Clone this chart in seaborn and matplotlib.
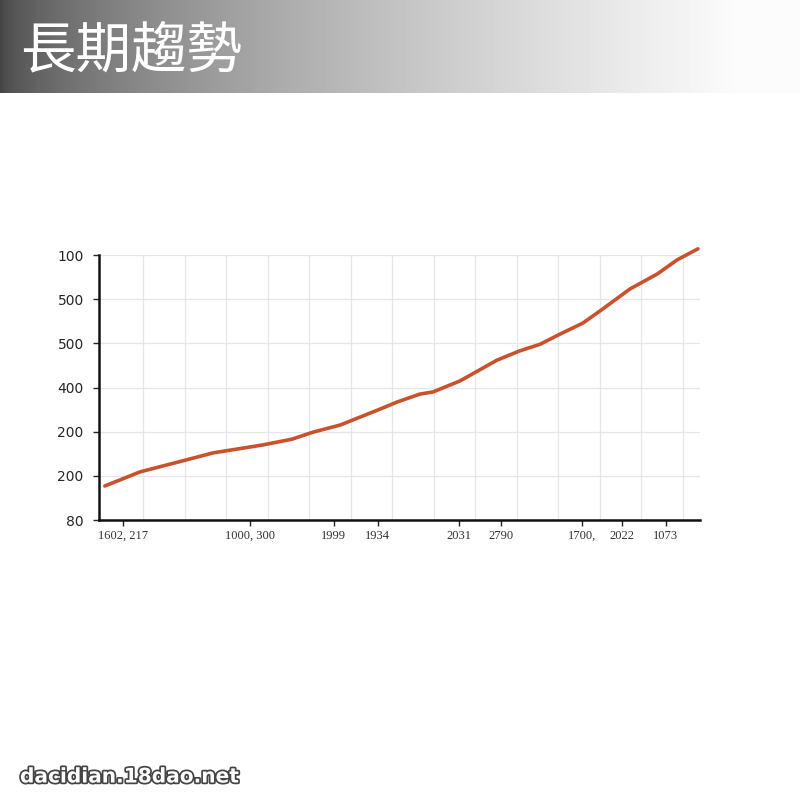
import numpy as np
import pandas as pd
import matplotlib
matplotlib.use("Agg")
import matplotlib.pyplot as plt
import matplotlib.patheffects as pe
import seaborn as sns

# values (x in grid steps, y in tick steps)
x_vals = [-0.92, -0.07, 0.96, 1.69, 2.89, 3.59, 4.10, 4.75, 5.47, 5.71, 6.12,
          6.67, 6.99, 7.64, 8.53, 9.08, 9.57, 10.05, 10.60, 11.08, 11.73,
          12.39, 12.87, 13.37]
y_vals = [0.77, 1.09, 1.34, 1.52, 1.70, 1.83, 1.99, 2.15, 2.42, 2.51, 2.67,
          2.85, 2.90, 3.15, 3.62, 3.83, 3.98, 4.21, 4.46, 4.78, 5.23,
          5.57, 5.89, 6.14]

y_tick_labels = ["80", "200", "200", "400", "500", "500", "100"]
x_tick_pos = [-0.48, 2.58, 4.60, 5.66, 7.61, 8.63, 10.58, 11.54, 12.60]
x_tick_labels = ["1602, 217", "1000, 300", "1999", "1934", "2031", "2790",
                 "1700,", "2022", "1073"]

title = "長期趨勢"
watermark = "dacidian.18dao.net"

df = pd.DataFrame({"x": x_vals, "y": y_vals})

sns.set_style("white")
plt.rcParams["font.family"] = ["Noto Sans CJK TC", "DejaVu Sans"]

fig = plt.figure(figsize=(8, 8), dpi=100)

# header band with grey gradient
hdr = fig.add_axes([0, 1 - 93 / 800, 1, 93 / 800])
grad = np.linspace(0, 1, 400)
shade = np.clip(0.27 + 0.75 * grad ** 0.6, 0, 0.985)
hdr.imshow(np.tile(shade, (10, 1)), cmap="gray", vmin=0, vmax=1,
           aspect="auto", extent=[0, 1, 0, 1])
hdr.set_axis_off()
hdr.text(0.025, 0.45, title, color="white", fontsize=40, va="center",
         ha="left", fontweight="light",
         family=["Noto Sans CJK TC", "DejaVu Sans"])

# main chart
ax = fig.add_axes([99 / 800, 1 - 520 / 800, 601 / 800, 265 / 800])
sns.lineplot(data=df, x="x", y="y", ax=ax, color="#c9512b", linewidth=2.6,
             clip_on=False)

ax.set_xlim(-1.06, 13.42)
ax.set_ylim(0, 6)
ax.set_yticks(range(len(y_tick_labels)))
ax.set_yticklabels(y_tick_labels, fontsize=10, family="DejaVu Sans")
ax.set_xticks(x_tick_pos)
ax.set_xticklabels(x_tick_labels, fontsize=9, family="Liberation Serif",
                   color="#333333")
ax.set_xticks(np.arange(0, 14), minor=True)
ax.tick_params(axis="x", which="minor", length=0)
ax.tick_params(axis="x", which="major", length=4, width=1, pad=3,
               direction="out", bottom=True)
ax.tick_params(axis="y", length=4, width=1, pad=7, direction="out", left=True)
ax.grid(False)
ax.grid(True, axis="x", which="minor", color="#e2e7ec", linewidth=0.9)
ax.grid(True, axis="y", which="major", color="#e2e7ec", linewidth=0.9)
ax.set_xlabel("")
ax.set_ylabel("")
for side in ["top", "right"]:
    ax.spines[side].set_visible(False)
for side in ["left", "bottom"]:
    ax.spines[side].set_color("#111111")
    ax.spines[side].set_linewidth(1.8)

# watermark
fig.text(20 / 800, 1 - 777 / 800, watermark, fontsize=14.5, fontweight="bold",
         color="white", va="center", ha="left", family="DejaVu Sans",
         path_effects=[pe.withStroke(linewidth=2.5, foreground="#444444")])

fig.savefig("out.png", dpi=100)
